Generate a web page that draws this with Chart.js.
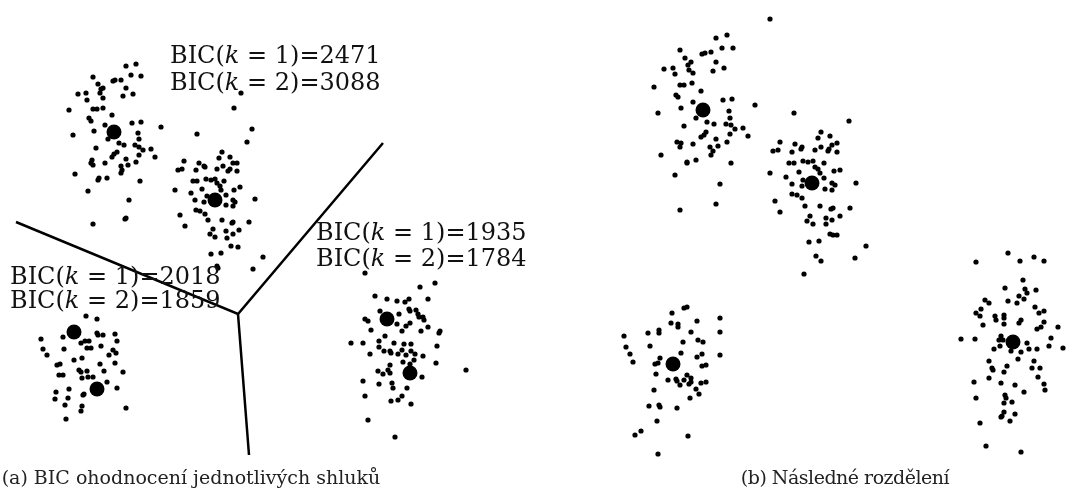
<!DOCTYPE html>
<html>
<head>
<meta charset="utf-8">
<script src="https://cdn.jsdelivr.net/npm/chart.js@4/dist/chart.umd.min.js"></script>
<style>
  body { margin: 0; background: #fff; width: 1067px; height: 502px; overflow: hidden; position: relative; }
  #wrap { position: absolute; left: 0; top: 0; width: 1067px; height: 502px; }
  .cap { position: absolute; top: 466px; width: 420px; text-align: center; font-family: 'DejaVu Serif', serif; font-size: 19px; color: #222; white-space: nowrap; }
</style>
</head>
<body>
<div id="wrap"><canvas id="c" width="1067" height="502"></canvas></div>
<div class="cap" style="left:-19px">(a) BIC ohodnocení jednotlivých shluků</div>
<div class="cap" style="left:635px; letter-spacing:-0.5px">(b) Následné rozdělení</div>
<script>
// souřadnice bodů (jednotky panelu, y roste dolů)

// (a) levý panel - body
const levyHorni = [[126,66],[136,64],[93,77],[131,75],[141,76],[98,84],[113,81],[115,80],[121,80],[126,88],[78,94],[86,93],[101,89],[103,88],[100,93],[103,98],[87,100],[123,96],[133,94],[69,110],[93,109],[97,109],[103,108],[112,115],[89,118],[91,121],[132,123],[141,122],[105,125],[94,131],[73,135],[138,133],[139,139],[108,139],[119,143],[124,145],[135,145],[139,147],[143,150],[151,149],[96,148],[139,155],[155,157],[117,152],[114,154],[112,157],[126,159],[136,162],[92,160],[93,165],[91,163],[105,163],[121,166],[128,165],[122,170],[121,173],[75,174],[99,178],[98,180],[107,178],[140,181],[88,191],[129,200],[126,218],[93,224],[125,219]];
const levyStred = [[161,127],[197,134],[252,129],[247,142],[241,93],[234,108],[222,152],[219,158],[230,157],[184,161],[178,170],[182,169],[199,163],[204,166],[205,167],[223,166],[233,163],[237,163],[196,170],[217,169],[228,171],[230,169],[237,171],[193,181],[197,181],[206,179],[211,180],[215,179],[224,181],[217,183],[220,186],[221,190],[202,189],[234,190],[240,187],[175,190],[191,193],[207,196],[226,195],[233,200],[235,202],[255,199],[195,200],[204,202],[233,206],[226,205],[196,210],[200,211],[205,214],[180,215],[185,226],[208,220],[222,220],[232,223],[233,222],[249,222],[213,229],[210,234],[215,237],[226,231],[233,234],[239,230],[227,238],[231,246],[238,247],[211,254],[221,253],[217,266],[263,257],[253,269]];
const levyDolni = [[86,316],[97,319],[41,339],[63,337],[81,343],[85,341],[89,341],[97,333],[98,335],[103,335],[115,334],[117,341],[43,349],[64,349],[87,348],[91,348],[101,346],[113,350],[116,353],[109,355],[47,355],[82,358],[74,360],[57,365],[60,364],[100,364],[115,363],[59,375],[63,375],[79,370],[81,372],[87,371],[104,371],[123,372],[82,378],[88,377],[93,377],[107,382],[117,388],[56,392],[69,389],[55,399],[68,398],[83,395],[84,394],[65,405],[82,406],[81,411],[126,408],[66,419],[218,268]];
const levyPravy = [[365,273],[435,283],[420,287],[375,296],[387,299],[397,301],[405,302],[409,299],[428,299],[380,311],[399,314],[409,309],[410,311],[416,310],[418,314],[423,317],[424,320],[365,319],[368,321],[397,324],[406,326],[410,323],[419,317],[428,327],[371,330],[402,331],[421,331],[440,331],[439,333],[385,336],[351,343],[363,343],[379,341],[394,343],[404,344],[411,344],[379,347],[384,351],[390,351],[391,353],[398,354],[402,350],[406,355],[411,351],[415,354],[423,356],[437,346],[370,354],[403,362],[414,360],[410,364],[436,363],[390,365],[378,371],[383,374],[388,370],[390,373],[422,377],[363,381],[379,384],[392,383],[393,388],[407,388],[466,370],[365,396],[402,396],[398,400],[391,401],[411,404],[368,420],[395,437]];
const levyStredy = [[114,132],[215,200],[74,332],[97,389],[387,319],[410,373]];

// dělicí přímky v panelu (a)
const delX = [16, 238, 383];
const delY = [222, 314, 143];
const delDolX = [238, 249];
const delDolY = [314, 455];

// (b) pravý panel - body
const pravyA = [[770,19],[727,35],[716,38],[722,48],[733,48],[680,50],[702,54],[705,53],[711,52],[685,58],[716,62],[691,62],[688,65],[664,69],[673,68],[675,74],[689,70],[693,73],[713,71],[724,68],[654,87],[680,85],[684,85],[692,83],[701,91],[676,95],[678,97],[693,102],[723,100],[732,99],[755,105],[681,108],[658,113],[729,111],[696,118],[730,118],[707,122],[714,124],[726,124],[731,125],[684,126],[735,129],[743,128],[730,134],[748,136],[706,132],[704,135],[701,137],[716,139],[677,142],[680,147],[681,143],[693,144],[710,147],[713,151],[718,146],[727,142],[661,155],[711,155],[687,162],[687,163],[696,160],[731,163],[675,175],[720,184],[680,210],[716,204]];
const pravyB = [[794,113],[849,121],[821,132],[830,136],[818,138],[780,142],[773,151],[778,150],[795,144],[802,147],[801,149],[792,152],[815,150],[821,147],[828,151],[829,149],[832,145],[837,143],[837,152],[789,163],[794,163],[803,161],[808,162],[813,161],[824,163],[815,167],[818,169],[820,173],[834,171],[840,170],[770,173],[786,177],[799,172],[803,180],[792,184],[802,186],[824,178],[832,183],[835,185],[832,190],[825,189],[856,183],[792,194],[797,195],[802,198],[775,201],[780,212],[805,206],[820,206],[831,209],[833,208],[850,208],[810,216],[807,221],[813,224],[826,218],[826,224],[832,220],[840,216],[830,234],[833,235],[837,235],[809,242],[819,241],[866,246],[816,256],[821,261],[855,258],[804,274]];
const pravyC = [[684,308],[687,307],[672,313],[671,323],[678,324],[678,327],[697,321],[720,318],[720,332],[624,336],[648,333],[659,330],[659,333],[691,332],[683,342],[698,340],[703,342],[626,347],[650,346],[630,354],[681,353],[702,354],[697,357],[720,355],[633,362],[660,358],[655,364],[658,363],[702,366],[706,365],[656,374],[668,380],[676,379],[677,381],[684,380],[687,375],[691,378],[680,385],[689,384],[691,382],[701,383],[706,382],[696,389],[699,394],[690,398],[654,390],[649,406],[659,405],[660,407],[677,408],[657,421],[635,435],[641,431],[688,436],[658,454]];
const pravyD = [[1008,253],[976,262],[1020,261],[1034,257],[1044,261],[1023,280],[1005,288],[1025,289],[1027,293],[1036,290],[1019,296],[1024,299],[1008,301],[1017,303],[985,300],[989,303],[981,309],[976,313],[980,316],[1035,307],[1039,313],[1044,311],[995,316],[996,320],[1004,315],[1004,318],[1004,324],[1021,320],[1019,323],[983,325],[1044,322],[1041,327],[1037,329],[1058,327],[961,339],[975,339],[1001,336],[999,340],[1003,340],[1027,343],[1029,349],[1037,349],[1051,338],[1049,346],[1063,348],[994,349],[1000,346],[1021,352],[1011,351],[1018,359],[989,361],[992,368],[993,370],[1007,366],[1034,361],[1032,368],[1040,368],[989,378],[1004,372],[1038,377],[974,382],[1001,383],[1015,385],[1044,384],[1045,390],[1024,392],[976,398],[1005,395],[1006,398],[1012,402],[1004,403],[1004,412],[1015,414],[1001,417],[1002,416],[1010,421],[980,423],[986,446],[1021,452]];
const pravyStredy = [[703,110],[812,183],[673,364],[1013,342]];

// popisky BIC: [x, y první řádky, hodnota k=1, hodnota k=2, rozestup]
const bicPopisky = [
  [170, 63, '2471', '3088', 27],
  [316, 240, '1935', '1784', 26],
  [10, 284, '2018', '1859', 24]
];

function body(seznam) {
  return seznam.map(p => ({ x: p[0], y: p[1] }));
}

function zBodu(xs, ys) {
  return xs.map((x, i) => ({ x: x, y: ys[i] }));
}

const vsechnyBody = [].concat(levyHorni, levyStred, levyDolni, levyPravy, pravyA, pravyB, pravyC, pravyD);
const vsechnyStredy = [].concat(levyStredy, pravyStredy);

// plugin pro texty BIC (pozice přes osy grafu)
const bicPlugin = {
  id: 'bicTexty',
  afterDatasetsDraw(chart) {
    const ctx = chart.ctx;
    const sx = chart.scales.x;
    const sy = chart.scales.y;
    ctx.save();
    ctx.fillStyle = '#111';
    ctx.textBaseline = 'alphabetic';
    bicPopisky.forEach(p => {
      [[1, p[2]], [2, p[3]]].forEach((r, i) => {
        let x = sx.getPixelForValue(p[0]);
        const y = sy.getPixelForValue(p[1] + i * p[4]);
        const casti = [
          ['BIC(', ''],
          ['k', 'italic '],
          [' = ' + r[0] + ')=' + r[1], '']
        ];
        casti.forEach(c => {
          ctx.font = c[1] + '24px "DejaVu Serif"';
          ctx.fillText(c[0], x, y);
          x += ctx.measureText(c[0]).width;
        });
      });
    });
    ctx.restore();
  }
};

new Chart(document.getElementById('c').getContext('2d'), {
  type: 'scatter',
  data: {
    datasets: [
      {
        data: body(vsechnyBody),
        backgroundColor: '#000',
        borderWidth: 0,
        pointRadius: 2.6
      },
      {
        data: body(vsechnyStredy),
        backgroundColor: '#000',
        borderWidth: 0,
        pointRadius: 7.5
      },
      {
        data: zBodu(delX, delY),
        showLine: true,
        borderColor: '#000',
        borderWidth: 2.5,
        pointRadius: 0,
        fill: false
      },
      {
        data: zBodu(delDolX, delDolY),
        showLine: true,
        borderColor: '#000',
        borderWidth: 2.5,
        pointRadius: 0,
        fill: false
      }
    ]
  },
  options: {
    responsive: false,
    animation: false,
    clip: false,
    layout: { padding: 0, autoPadding: false },
    plugins: {
      legend: { display: false },
      tooltip: { enabled: false }
    },
    scales: {
      x: { type: 'linear', min: 0, max: 1067, display: false },
      y: { type: 'linear', min: 0, max: 502, reverse: true, display: false }
    }
  },
  plugins: [bicPlugin]
});
</script>
</body>
</html>
